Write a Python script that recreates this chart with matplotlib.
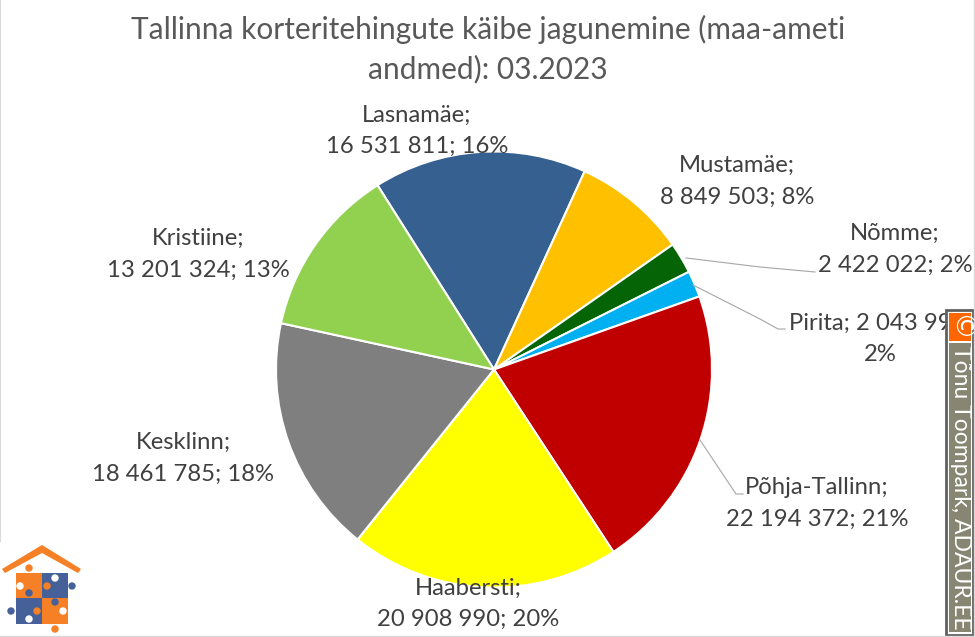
#!/usr/bin/env python3
import matplotlib
matplotlib.use("Agg")
import matplotlib.pyplot as plt
from matplotlib.patches import Rectangle, Circle, Polygon

W, H = 975, 637
FONT = "Lato"
TEXT = "#404040"

districts = ["Lasnamäe", "Mustamäe", "Nõmme", "Pirita", "Põhja-Tallinn", "Haabersti", "Kesklinn", "Kristiine"]
turnover = [16531811, 8849503, 2422022, 2043990, 22194372, 20908990, 18461785, 13201324]
colors = ["#35608F", "#FFC000", "#056405", "#00B0F0", "#C00000", "#FFFF00", "#7F7F7F", "#92D050"]

label_texts = [
    "Lasnamäe;\n16 531 811; 16%",
    "Mustamäe;\n8 849 503; 8%",
    "Nõmme;\n2 422 022; 2%",
    "Pirita; 2 043 990;\n2%",
    "Põhja-Tallinn;\n22 194 372; 21%",
    "Haabersti;\n20 908 990; 20%",
    "Kesklinn;\n18 461 785; 18%",
    "Kristiine;\n13 201 324; 13%",
]
label_pos = [(417, 131), (737, 181.5), (895, 249.5), (880, 339), (817, 503.5), (468, 604), (183, 458.5), (198, 254.5)]

fig = plt.figure(figsize=(W / 100, H / 100), dpi=100, facecolor="white")

# pie axes placed so centre is at (494, 369.5), radius 218
cx, cy, r = 494, 369.5, 218
ax = fig.add_axes([(cx - r) / W, 1 - (cy + r) / H, 2 * r / W, 2 * r / H])
ax.pie(turnover, colors=colors, startangle=122.3, counterclock=False, radius=1,
       wedgeprops={"edgecolor": "white", "linewidth": 1.5})
ax.set_xlim(-1, 1)
ax.set_ylim(-1, 1)
ax.set_aspect("equal")
ax.axis("off")

# overlay in pixel coordinates for text, leaders, watermark and logo
ov = fig.add_axes([0, 0, 1, 1], facecolor="none")
ov.set_xlim(0, W)
ov.set_ylim(H, 0)
ov.axis("off")

ov.text(488, 49, "Tallinna korteritehingute käibe jagunemine (maa-ameti\nandmed): 03.2023",
        ha="center", va="center", fontsize=21.5, family=FONT, color="#595959", linespacing=1.47)

for txt, (x, y) in zip(label_texts, label_pos):
    ov.text(x, y, txt, ha="center", va="center", fontsize=17.2, family=FONT, color=TEXT, linespacing=1.62)

for xs, ys in [([686, 760, 815], [258, 267, 272]),
               ([693, 760, 778, 785], [285, 319, 329, 329]),
               ([700, 736, 743], [440, 494, 494])]:
    ov.plot(xs, ys, color="#A6A6A6", lw=0.8)

# watermark
ov.add_patch(Rectangle((946, 310), 27, 325, fc="white", ec="#606060", lw=2, zorder=5))
ov.add_patch(Rectangle((949, 313), 22, 28, fc="#FF6600", ec="none", zorder=6))
ov.add_patch(Rectangle((949, 343), 22, 289, fc="#868672", ec="none", zorder=6))
ov.text(959, 328, "©", rotation=-90, ha="center", va="center", fontsize=20, family="DejaVu Sans",
        color="white", zorder=7)
ov.text(960, 488, "Tõnu Toompark, ADAUR.EE", rotation=-90, ha="center", va="center", fontsize=16.5,
        family=FONT, color="white", zorder=7)

# logo
ORANGE, BLUE = "#F58025", "#46609A"
ov.add_patch(Rectangle((0, 541), 84, 96, fc="white", ec="none", zorder=5))
ov.add_patch(Polygon([(2, 569), (42, 545), (81, 569), (78, 573), (42, 553), (5, 573)],
                     fc=ORANGE, ec="none", zorder=6))
for x, y, c in [(16, 573, ORANGE), (42, 573, BLUE), (16, 598, BLUE), (42, 598, ORANGE)]:
    ov.add_patch(Rectangle((x, y), 26, 25.5, fc=c, ec="none", zorder=6))
for x, y, c in [(29, 568, ORANGE), (47, 586, ORANGE), (37, 611, ORANGE), (55, 629, ORANGE),
                (72, 586, BLUE), (11, 611, BLUE), (29, 593, BLUE), (55, 602, BLUE)]:
    ov.add_patch(Circle((x, y), 3.7, fc=c, ec="none", zorder=7))
for x, y in [(20, 586), (55, 578), (29, 619), (63, 611)]:
    ov.add_patch(Circle((x, y), 3.7, fc="white", ec="none", zorder=7))

# chart frame edges
ov.plot([0, 0], [0, 541], color="#D9D9D9", lw=1.5, zorder=8)
ov.plot([0, 974, 974], [636, 636, 0], color="#D9D9D9", lw=1, zorder=8)

fig.savefig("out.png", dpi=100)
